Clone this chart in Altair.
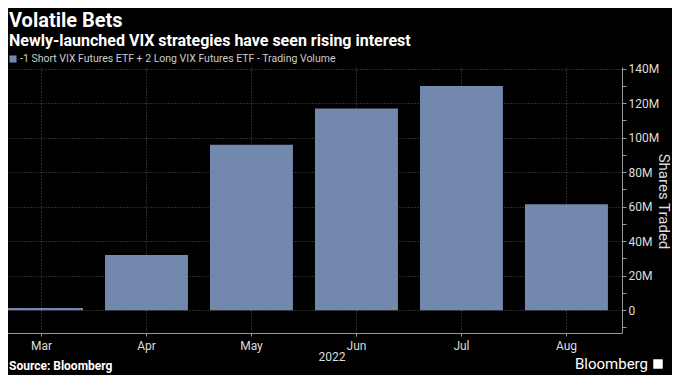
import altair as alt
import pandas as pd

# ---- data ----
months = ["Mar", "Apr", "May", "Jun", "Jul", "Aug"]
volumes = [1.3e6, 32.0e6, 96.0e6, 117.0e6, 130.0e6, 61.5e6]

title_text = "Volatile Bets"
subtitle_text = "Newly-launched VIX strategies have seen rising interest"
legend_text = "-1 Short VIX Futures ETF + 2 Long VIX Futures ETF - Trading Volume"
year_text = "2022"
source_text = "Source: Bloomberg"
brand_text = "Bloomberg"
y_title = "Shares Traded"
y_tick_values = [-10e6, 0, 10e6, 20e6, 30e6, 40e6, 50e6, 60e6, 70e6, 80e6,
                 90e6, 100e6, 110e6, 120e6, 130e6, 140e6]

df = pd.DataFrame({"month": months, "volume": volumes})

FONT = "Roboto, sans-serif"
BAR = "#7388AD"
W, H = 622, 266

x = alt.X(
    "month:N", sort=months, title=None,
    scale=alt.Scale(paddingInner=0.21, paddingOuter=0.067, align=0),
    axis=alt.Axis(
        labelAngle=0, labelColor="#dddddd", labelFontSize=12, labelFont=FONT,
        labelPadding=4, tickColor="#999999", tickSize=3, domainColor="#999999",
        grid=True, gridColor="#555555", gridDash=[1, 2], bandPosition=0.5,
    ),
)
y = alt.Y(
    "volume:Q", title=y_title,
    scale=alt.Scale(domain=[-13.2e6, 141.0e6], nice=False, zero=False),
    axis=alt.Axis(
        orient="right", values=y_tick_values,
        labelExpr="datum.value >= 0 && datum.value % 20000000 == 0 ? (datum.value == 0 ? '0' : format(datum.value/1000000, 'd') + 'M') : ''",
        labelColor="#dddddd", labelFontSize=12, labelFont=FONT, labelPadding=2,
        tickColor="#999999", tickSize=4, domainColor="#999999",
        grid=True, gridColor="#555555", gridDash=[1, 2],
        gridOpacity={"condition": {"test": "datum.value >= 0 && datum.value % 20000000 == 0", "value": 1}, "value": 0},
        titleColor="#dddddd", titleFont=FONT, titleFontSize=15, titleFontWeight="normal",
        titleAngle=90, titleX=41, titleY=134, titleAlign="center", titleBaseline="middle",
    ),
)

bars = alt.Chart(df).mark_bar(color=BAR, clip=True).encode(x=x, y=y)


def label(text, xv, yv, size, color="#ffffff", weight="normal", align="left", baseline="alphabetic"):
    return alt.Chart(pd.DataFrame({"t": [text]})).mark_text(
        font=FONT, fontSize=size, fontWeight=weight, color=color,
        align=align, baseline=baseline,
    ).encode(text="t:N", x=alt.value(xv), y=alt.value(yv))


title = label(title_text, 9, -40, 20, weight="bold")
subtitle = label(subtitle_text, 9, -21, 16, weight="bold")
legend_sq = alt.Chart(pd.DataFrame({"t": [legend_text]})).mark_square(
    color=BAR, size=50, opacity=1
).encode(x=alt.value(13), y=alt.value(-8))
legend = label(legend_text, 20, -8, 10.5, color="#cccccc", baseline="middle")
year = label(year_text, 332, 294, 12, color="#dddddd", align="center")
source = label(source_text, 9, 303, 12, weight="bold")
brand = label(brand_text, 648, 302, 15, align="right")
brand_icon = alt.Chart(pd.DataFrame({"t": [brand_text]})).mark_square(
    color="#ffffff", size=90, opacity=1
).encode(x=alt.value(658), y=alt.value(297))

chart = alt.layer(
    bars, title, subtitle, legend_sq, legend, year, source, brand, brand_icon
).properties(
    width=W, height=H,
    padding={"left": -8, "top": 59, "right": 50, "bottom": 42},
    background="#000000",
    autosize=alt.AutoSizeParams(type="none"),
).configure_view(stroke=None)

chart.save("out.html", embed_options={"renderer": "svg", "actions": False})
